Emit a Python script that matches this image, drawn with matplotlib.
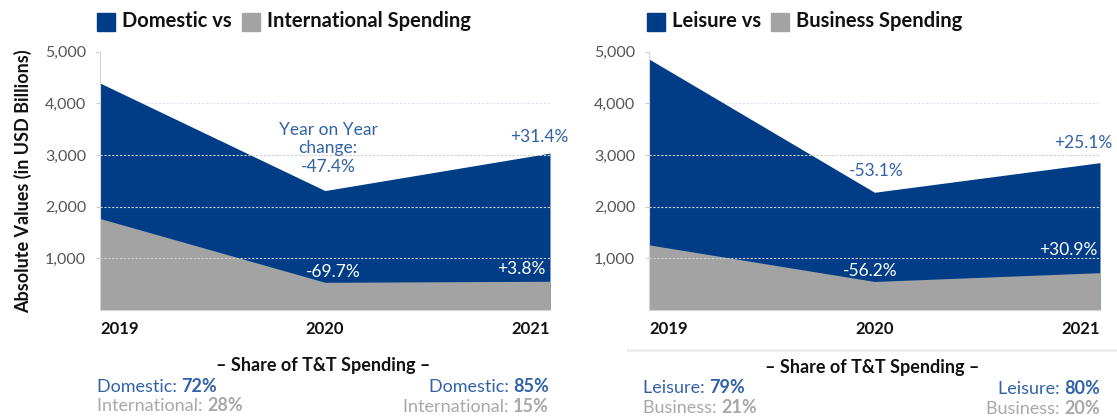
import matplotlib
matplotlib.use("Agg")
import matplotlib.pyplot as plt
from matplotlib.patches import Rectangle

plt.rcParams['font.family'] = ['Lato', 'DejaVu Sans']

W, H = 1117, 418

years = ['2019', '2020', '2021']
domestic = [4390, 2310, 3035]
international = [1770, 536, 556]
leisure = [4855, 2277, 2850]
business = [1260, 552, 722]

yticks = [1000, 2000, 3000, 4000, 5000]
ytick_labels = ['1,000', '2,000', '3,000', '4,000', '5,000']

BLUE = '#003d86'
GRAY = '#a3a3a3'
TXT_BLUE = '#3162a8'
TXT_GRAY = '#a8a8a8'


def fx(x):
    return x / W


def fy(y):
    return 1 - y / H


def setup_axes(ax, top, bottom):
    xs = range(len(years))
    ax.fill_between(xs, 0, top, color=BLUE, lw=0, zorder=1)
    ax.fill_between(xs, 0, bottom, color=GRAY, lw=0, zorder=2)
    for v in yticks[:3]:
        ax.axhline(v, color='#cfcfcf', lw=0.8, ls=(0, (2, 1.5)), zorder=3)
    ax.axhline(4000, color='#dfe5ef', lw=0.8, ls=(0, (2, 1.5)), zorder=0.5)
    ax.set_xlim(0, 2)
    ax.set_ylim(0, 5000)
    ax.set_xticks(list(xs))
    ax.set_xticklabels(years, fontsize=12, fontweight='bold', color='#111111')
    labels = ax.get_xticklabels()
    labels[0].set_ha('left')
    labels[-1].set_ha('right')
    ax.tick_params(axis='x', length=0, pad=8)
    ax.set_yticks(yticks)
    ax.set_yticklabels(ytick_labels, fontsize=11.5, color='#555555')
    ax.tick_params(axis='y', length=3, pad=7, color='#cccccc')
    for s in ['top', 'right']:
        ax.spines[s].set_visible(False)
    for s in ['left', 'bottom']:
        ax.spines[s].set_color('#d4d4d4')
        ax.spines[s].set_linewidth(0.8)


def legend(fig, x, first, second):
    fig.patches.append(Rectangle((fx(x), fy(31)), fx(18), 18 / H, color=BLUE,
                                 transform=fig.transFigure, figure=fig))
    t1 = fig.text(fx(x + 25), fy(21), first, fontsize=14.5, fontweight='bold',
                  va='center', ha='left', color='#111111')
    fig.canvas.draw()
    gx = t1.get_window_extent().x1 + 10
    fig.patches.append(Rectangle((gx / W, fy(31)), fx(18), 18 / H, color=GRAY,
                                 transform=fig.transFigure, figure=fig))
    fig.text((gx + 25) / W, fy(21), second, fontsize=14.5, fontweight='bold',
             va='center', ha='left', color='#111111')


def two_part(ax, x, y, normal, bold, color, ha):
    if ha == 'left':
        t = ax.figure.text(fx(x), fy(y), normal, fontsize=13, color=color,
                           ha='left', va='center')
        ax.annotate(bold, xy=(1, 0), xycoords=t, ha='left', va='bottom',
                    fontsize=13, fontweight='bold', color=color,
                    annotation_clip=False)
    else:
        t = ax.figure.text(fx(x), fy(y), bold, fontsize=13, color=color,
                           fontweight='bold', ha='right', va='center')
        ax.annotate(normal, xy=(0, 0), xycoords=t, ha='right', va='bottom',
                    fontsize=13, color=color, annotation_clip=False)


fig = plt.figure(figsize=(W / 100, H / 100), dpi=100)
ax1 = fig.add_axes([fx(100), fy(310), fx(450), (310 - 51.5) / H])
ax2 = fig.add_axes([fx(649), fy(310), fx(451), (310 - 51.5) / H])

setup_axes(ax1, domestic, international)
setup_axes(ax2, leisure, business)

ax1.set_ylabel('Absolute Values (in USD Billions)', fontsize=13,
               fontweight='bold', color='#111111', labelpad=9)

# header legends
legend(fig, 97, 'Domestic vs', 'International Spending')
legend(fig, 647, 'Leisure vs', 'Business Spending')

# year-on-year change labels
lab = dict(textcoords='offset pixels', fontsize=12.5, annotation_clip=False)
ax1.annotate('Year on Year', xy=(1, domestic[1]), xytext=(3, 61),
             ha='center', va='center', color=TXT_BLUE, **lab)
ax1.annotate('change:', xy=(1, domestic[1]), xytext=(3, 43),
             ha='center', va='center', color=TXT_BLUE, **lab)
ax1.annotate('-47.4%', xy=(1, domestic[1]), xytext=(3, 24),
             ha='center', va='center', color=TXT_BLUE, **lab)
ax1.annotate('+31.4%', xy=(2, domestic[2]), xytext=(-11, 16),
             ha='center', va='center', color=TXT_BLUE, **lab)
ax1.annotate('-69.7%', xy=(1, international[1]), xytext=(8, 10),
             ha='center', va='center', color='white', **lab)
ax1.annotate('+3.8%', xy=(2, international[2]), xytext=(-4, 12),
             ha='right', va='center', color='white', **lab)

ax2.annotate('-53.1%', xy=(1, leisure[1]), xytext=(2, 21),
             ha='center', va='center', color=TXT_BLUE, **lab)
ax2.annotate('+25.1%', xy=(2, leisure[2]), xytext=(12, 20),
             ha='right', va='center', color=TXT_BLUE, **lab)
ax2.annotate('+30.9%', xy=(2, business[2]), xytext=(-2, 23),
             ha='right', va='center', color='white', **lab)
ax2.annotate('-56.2%', xy=(1, business[1]), xytext=(-4, 10),
             ha='center', va='center', color='white', **lab)

# share of spending footer
fig.add_artist(plt.Line2D([fx(628), 1], [fy(350), fy(350)], color='#ececec', lw=2))
fig.text(fx(323), fy(366), '\u2013 Share of T&T Spending \u2013', fontsize=13,
         fontweight='bold', ha='center', va='center', color='#111111')
fig.text(fx(872), fy(368), '\u2013 Share of T&T Spending \u2013', fontsize=13,
         fontweight='bold', ha='center', va='center', color='#111111')

two_part(ax1, 97, 387, 'Domestic: ', '72%', TXT_BLUE, 'left')
two_part(ax1, 97, 406, 'International: ', '28%', TXT_GRAY, 'left')
two_part(ax1, 549, 387, 'Domestic: ', '85%', TXT_BLUE, 'right')
two_part(ax1, 549, 406, 'International: ', '15%', TXT_GRAY, 'right')

two_part(ax2, 643, 388, 'Leisure: ', '79%', TXT_BLUE, 'left')
two_part(ax2, 643, 408, 'Business: ', '21%', TXT_GRAY, 'left')
two_part(ax2, 1100, 388, 'Leisure: ', '80%', TXT_BLUE, 'right')
two_part(ax2, 1100, 408, 'Business: ', '20%', TXT_GRAY, 'right')

fig.savefig('out.png', dpi=100)
